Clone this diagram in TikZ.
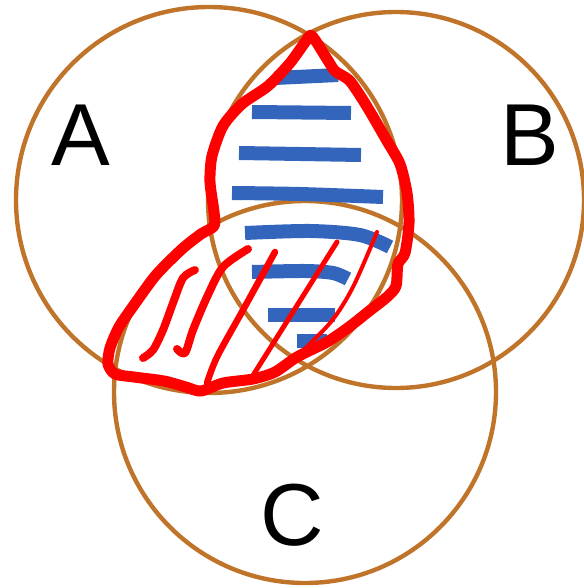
\documentclass[tikz,border=0pt]{standalone}
\usepackage{fontspec}
\setmainfont{Liberation Sans}
\usepackage{xcolor}
\definecolor{setbrown}{RGB}{192,116,42}
\definecolor{hatchblue}{RGB}{50,101,187}
\definecolor{markred}{RGB}{255,0,0}

\begin{document}
\begin{tikzpicture}[x=1pt, y=-1pt, line join=round,
  setcircle/.style={draw=setbrown, line width=4.4pt},
  setlabel/.style={inner sep=0pt, font=\fontsize{88}{88}\selectfont},
  blueline/.style={draw=hatchblue, line width=14pt, line cap=butt},
  redrim/.style={draw=markred, line width=11pt, line cap=round},
  redhatch/.style={draw=markred, line width=#1, line cap=round}]
\useasboundingbox (0,0) rectangle (583,588);
% the three sets
\draw[setcircle] (209,200) circle[radius=193];
\draw[setcircle] (396,200) circle[radius=188];
\draw[setcircle] (305,392) circle[radius=191];
\node[setlabel] (labA) at (81,135) {A};
\node[setlabel] (labB) at (530,135) {B};
\node[setlabel] (labC) at (292,515) {C};
% blue strokes, A and B
\draw[blueline] (275,78) -- (338,75);
\draw[blueline] (252,112) -- (351,113);
\draw[blueline] (239,153) -- (361,155);
\draw[blueline] plot[smooth] coordinates {(232,193) (300,194) (383,197)};
\draw[blueline] plot[smooth] coordinates {(245,233) (310,231) (360,235) (390,247)};
\draw[blueline] plot[smooth] coordinates {(252,272) (305,271) (333,273) (348,279)};
\draw[blueline] (268,315) -- (335,315);
\draw[blueline] (297,341) -- (327,341);
% red rim round both regions
\draw[redrim] plot[smooth cycle, tension=0.45] coordinates {
  (312,36) (327,59) (335,71) (349,80) (361,97) (372,115) (387,141)
  (400,164) (407,193) (409,223) (405,253) (398,264) (396,286) (387,297)
  (368,312) (349,327) (327,342) (297,357) (275,372) (253,379) (223,383)
  (201,391) (186,387) (164,381) (134,377) (115,374) (108,364) (110,348)
  (119,327) (134,305) (156,275) (182,249) (201,234) (214,226) (214,212)
  (210,182) (212,156) (223,126) (242,104) (268,86) (290,63) (306,41)};
% red strokes, A and C
\draw[redhatch=8pt] plot[smooth] coordinates {(195,270) (183,278) (173,303) (163,330) (153,350) (143,358)};
\draw[redhatch=8pt] plot[smooth] coordinates {(248,249) (223,267) (207,297) (193,330) (185,353) (177,349)};
\draw[redhatch=6.5pt] plot[smooth] coordinates {(275,252) (243,310) (217,357) (207,383)};
\draw[redhatch=5pt] (337,242) -- (252,377);
\draw[redhatch=4pt] plot[smooth] coordinates {(377,232) (353,287) (330,323) (290,363)};
\end{tikzpicture}
\end{document}
